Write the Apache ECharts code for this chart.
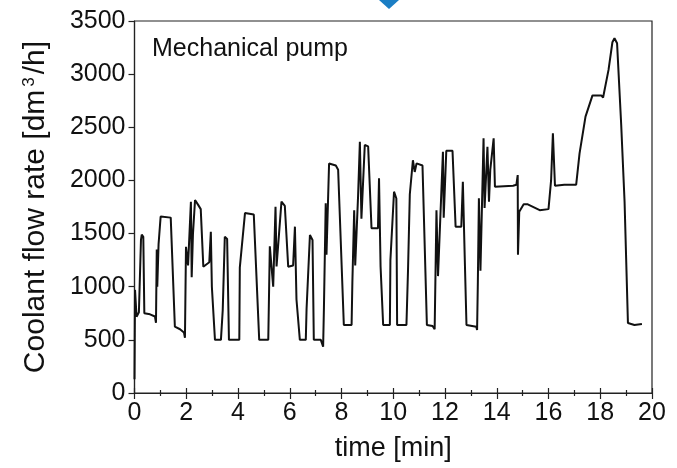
<!DOCTYPE html>
<html>
<head>
<meta charset="utf-8">
<script src="https://cdn.jsdelivr.net/npm/echarts@6/dist/echarts.min.js"></script>
<style>
html,body{margin:0;padding:0;background:#fff;}
#c{width:677px;height:468px;}
</style>
</head>
<body>
<div id="c"></div>
<script>
// time [min]
var timeMin = [0, 0.02, 0.08, 0.17, 0.25, 0.28, 0.34, 0.38, 0.6, 0.79, 0.83, 0.86, 0.88, 0.93, 1.01, 1.40, 1.56, 1.76, 1.91, 1.95,
  1.99, 2.07, 2.18, 2.21, 2.26, 2.34, 2.46, 2.56, 2.66, 2.89, 2.93, 2.95, 2.99, 3.11, 3.34, 3.41, 3.49, 3.58, 3.65, 4.05,
  4.07, 4.27, 4.61, 4.82, 5.17, 5.23, 5.36, 5.45, 5.49, 5.68, 5.81, 5.94, 6.13, 6.20, 6.26, 6.39, 6.62, 6.65, 6.78, 6.88,
  6.93, 7.20, 7.29, 7.32, 7.39, 7.42, 7.52, 7.78, 7.87, 8.09, 8.39, 8.42, 8.49, 8.53, 8.64, 8.71, 8.77, 8.90, 9.03, 9.16,
  9.41, 9.45, 9.51, 9.61, 9.87, 9.89, 10.03, 10.12, 10.15, 10.51, 10.57, 10.64, 10.76, 10.83, 10.90, 11.13, 11.30, 11.52, 11.60, 11.67,
  11.73, 11.92, 11.95, 12.05, 12.29, 12.41, 12.63, 12.69, 12.76, 12.83, 13.21, 13.24, 13.27, 13.31, 13.37, 13.49, 13.53, 13.64, 13.70, 13.75,
  13.88, 13.93, 14.63, 14.76, 14.81, 14.82, 14.87, 15.04, 15.20, 15.66, 16.00, 16.10, 16.17, 16.25, 16.61, 17.07, 17.20, 17.43, 17.70, 18.04,
  18.11, 18.32, 18.47, 18.55, 18.65, 18.81, 18.94, 19.07, 19.32, 19.61];
// coolant flow rate [dm3/h]
var flowRate = [130, 970, 718, 760, 1440, 1490, 1470, 750, 740, 720, 660, 1350, 1000, 1400, 1660, 1650, 624, 600, 570, 520,
  1376, 1200, 1800, 1090, 1500, 1816, 1770, 1730, 1188, 1230, 1230, 1517, 1000, 500, 500, 780, 1470, 1450, 500, 500,
  1180, 1693, 1680, 500, 500, 1380, 1000, 1753, 1190, 1800, 1760, 1188, 1200, 1565, 880, 500, 500, 790, 1486, 1440,
  500, 500, 436, 790, 1786, 1300, 2160, 2140, 2100, 640, 640, 1040, 1720, 1200, 1850, 2364, 1640, 2333, 2320, 1550,
  1550, 2020, 1190, 640, 640, 1250, 1894, 1830, 640, 640, 1150, 1870, 2190, 2080, 2160, 2140, 640, 630, 600, 1720,
  1100, 2270, 1650, 2280, 2280, 1565, 1565, 1988, 1300, 640, 624, 593, 1050, 1832, 1150, 2396, 1740, 2317, 1800, 2100,
  2396, 1940, 1950, 1960, 2050, 1300, 1706, 1775, 1775, 1720, 1730, 2000, 2443, 1950, 1960, 1960, 2255, 2600, 2800, 2800,
  2780, 3040, 3300, 3337, 3290, 2521, 1800, 658, 640, 650];
var xTicks = [0, 2, 4, 6, 8, 10, 12, 14, 16, 18, 20];
var yTicks = [0, 500, 1000, 1500, 2000, 2500, 3000, 3500];

var pts = timeMin.map(function (t, i) { return [t, flowRate[i]]; });
var font = "'Liberation Sans', Arial, sans-serif";
var plain = function (v) { return String(v); };

var chart = echarts.init(document.getElementById('c'), null, {renderer: 'canvas'});
chart.setOption({
  animation: false,
  backgroundColor: '#ffffff',
  grid: {left: 134.5, right: 25, top: 21, bottom: 75, show: true, borderColor: '#222', borderWidth: 1.2},
  xAxis: [{
    type: 'value', min: xTicks[0], max: xTicks[xTicks.length - 1], interval: 2,
    name: 'time [min]', nameLocation: 'middle', nameGap: 42,
    nameTextStyle: {fontFamily: font, fontSize: 27, color: '#111'},
    axisLine: {show: true, onZero: false, lineStyle: {color: '#222', width: 1.2}},
    axisTick: {show: true, inside: false, length: 6, lineStyle: {color: '#222', width: 1.2}},
    minorTick: {show: true, splitNumber: 2, length: 3, lineStyle: {color: '#222', width: 1.2}},
    axisLabel: {fontFamily: font, fontSize: 25, color: '#111', margin: 8, formatter: plain},
    splitLine: {show: false}
  }, {
    type: 'value', min: xTicks[0], max: xTicks[xTicks.length - 1], interval: 2, position: 'bottom',
    axisLine: {show: false},
    axisTick: {show: true, inside: true, length: 5, lineStyle: {color: '#222', width: 1.2}},
    minorTick: {show: true, splitNumber: 2, length: 3, lineStyle: {color: '#222', width: 1.2}},
    axisLabel: {show: false}, splitLine: {show: false}
  }],
  yAxis: [{
    type: 'value', min: yTicks[0], max: yTicks[yTicks.length - 1], interval: 500,
    name: 'Coolant flow rate [dm{sup|3}/h]', nameLocation: 'middle', nameGap: 84, nameRotate: 90,
    nameTextStyle: {fontFamily: font, fontSize: 30, color: '#111',
      rich: {sup: {fontFamily: font, fontSize: 17, color: '#111', verticalAlign: 'top', lineHeight: 17, padding: [0, 3, 15, 3]}}},
    axisLine: {show: true, onZero: false, lineStyle: {color: '#222', width: 1.2}},
    axisTick: {show: true, inside: false, length: 6, lineStyle: {color: '#222', width: 1.2}},
    axisLabel: {fontFamily: font, fontSize: 25, color: '#111', margin: 9, formatter: plain},
    splitLine: {show: false}
  }],
  series: [{
    type: 'line', data: pts, xAxisIndex: 0, yAxisIndex: 0,
    showSymbol: false, symbol: 'none',
    lineStyle: {color: '#111', width: 2}, z: 3
  }],
  graphic: [
    {type: 'text', left: 152, top: 37, style: {text: 'Mechanical pump', fontFamily: font, fontSize: 25, fill: '#111'}},
    {type: 'polygon', shape: {points: [[379, 0], [399, 0], [389, 9]]}, style: {fill: '#1b7ec4'}}
  ]
});
</script>
</body>
</html>
